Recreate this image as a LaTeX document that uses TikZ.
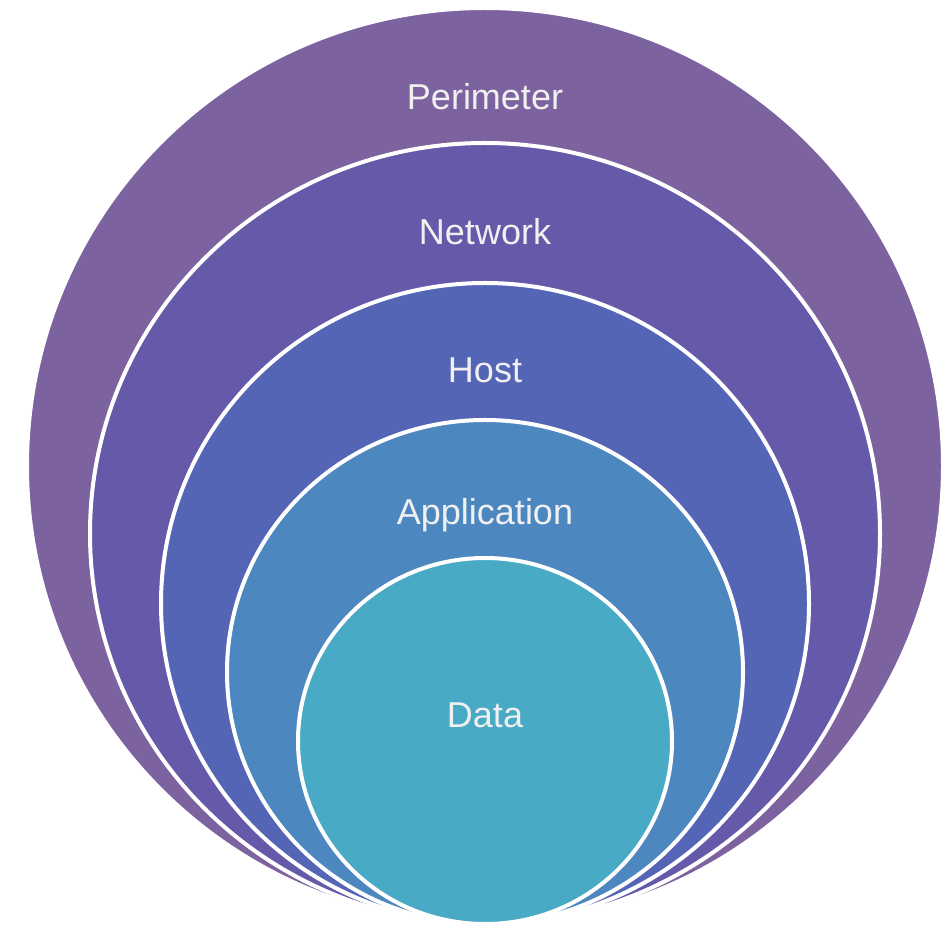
\documentclass[tikz,border=0pt]{standalone}
\usepackage{fontspec}
\setmainfont{Liberation Sans}
\usetikzlibrary{shapes.geometric,positioning}

\definecolor{perimcol}{RGB}{125,98,160}
\definecolor{netcol}{RGB}{101,89,170}
\definecolor{hostcol}{RGB}{85,101,181}
\definecolor{appcol}{RGB}{77,135,191}
\definecolor{datacol}{RGB}{72,170,197}

\begin{document}
\begin{tikzpicture}[x=1pt,y=1pt,
    layer/.style={ellipse, draw=white, line width=4pt, inner sep=0pt, outer sep=0pt, anchor=south},
    lbl/.style={text=white!94!black, font=\fontsize{36}{40}\selectfont, inner sep=0pt}]

    \useasboundingbox (0,0) rectangle (952,926);
    \coordinate (base) at (485,2);

    % rings, largest first
    \node[layer, fill=perimcol, minimum width=916pt, minimum height=916pt] (perimeter) at (base) {};
    \node[layer, fill=netcol, minimum width=790pt, minimum height=781pt] (network) at (base) {};
    \node[layer, fill=hostcol, minimum width=648pt, minimum height=641pt] (host) at (base) {};
    \node[layer, fill=appcol, minimum width=516pt, minimum height=504pt] (application) at (base) {};
    \node[layer, fill=datacol, minimum width=374pt, minimum height=366pt] (data) at (base) {};

    % labels
    \node[lbl, below=102pt of perimeter.north, anchor=base] (tperim) {Perimeter};
    \node[lbl, below=102pt of network.north, anchor=base] (tnet) {Network};
    \node[lbl, below=100pt of host.north, anchor=base] (thost) {Host};
    \node[lbl, below=105pt of application.north, anchor=base] (tapp) {Application};
    \node[lbl, below=170pt of data.north, anchor=base] (tdata) {Data};

\end{tikzpicture}
\end{document}
